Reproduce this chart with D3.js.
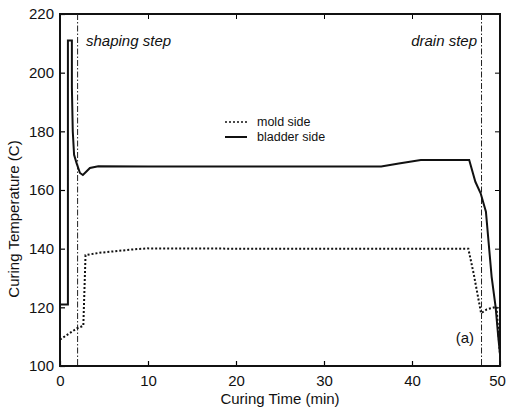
<!DOCTYPE html>
<html>
<head>
<meta charset="utf-8">
<script src="https://cdn.jsdelivr.net/npm/d3@7"></script>
<style>
  body { margin: 0; background: #fff; }
  text { font-family: Arial, "Liberation Sans", sans-serif; fill: #111; }
</style>
</head>
<body>
<div id="chart"></div>
<script>
(function() {
"use strict";

// values
var bladderTime = [0, 0.9, 0.9, 1.35, 1.35, 1.45, 1.6, 1.9, 2.27, 2.6, 3.0, 3.4, 4.35, 10, 20, 30, 36.5, 38.5, 41, 46.5, 47.2, 47.8, 48.4, 49.05, 49.5, 49.8, 50];
var bladderTemp = [121, 121, 211, 211, 195, 180, 172, 169, 165.8, 165.1, 166.3, 167.5, 168.1, 168, 168, 168, 168, 169, 170.2, 170.2, 162.8, 158.9, 152.6, 130.4, 120.2, 110, 104];

var moldTime = [0, 1.9, 2.65, 2.9, 4.5, 6.5, 8.5, 9.85, 20, 30, 40, 46.4, 47, 47.85, 48.5, 49.6, 50];
var moldTemp = [109, 112.8, 113.7, 137.8, 138.6, 139.2, 139.8, 140.1, 140, 140, 140, 140, 131.6, 118, 119.3, 120.2, 104];

var stepTimes = [2, 47.9];
var xTicks = [0, 10, 20, 30, 40, 50];
var yTicks = [100, 120, 140, 160, 180, 200, 220];

var W = 507, H = 411;
var left = 60, right = 500, top = 14, bottom = 366;

var svg = d3.select("#chart").append("svg")
    .attr("width", W)
    .attr("height", H);

var x = d3.scaleLinear().domain([0, 50]).range([left, right]);
var y = d3.scaleLinear().domain([100, 220]).range([bottom, top]);

// frame with inward ticks on all sides
svg.append("g")
    .attr("transform", "translate(0," + bottom + ")")
    .call(d3.axisBottom(x).tickValues(xTicks).tickSize(-5).tickPadding(9))
    .call(function(g) {
        g.select(".domain").remove();
        g.selectAll("text").attr("font-size", 15).attr("dy", "0.75em")
            .attr("dx", function(d) { return d === 50 ? -3 : 0; });
        g.selectAll("line").attr("stroke-width", 1.2);
    });
svg.append("g")
    .attr("transform", "translate(0," + top + ")")
    .call(d3.axisTop(x).tickValues(xTicks).tickSize(-5).tickFormat(""))
    .call(function(g) { g.select(".domain").remove(); });
svg.append("g")
    .attr("transform", "translate(" + left + ",0)")
    .call(d3.axisLeft(y).tickValues(yTicks).tickSize(-5).tickPadding(6))
    .call(function(g) {
        g.select(".domain").remove();
        g.selectAll("text").attr("font-size", 15);
        g.selectAll("line").attr("stroke-width", 1.2);
    });
svg.append("g")
    .attr("transform", "translate(" + right + ",0)")
    .call(d3.axisRight(y).tickValues(yTicks).tickSize(-5).tickFormat(""))
    .call(function(g) { g.select(".domain").remove(); });

svg.append("rect")
    .attr("x", left).attr("y", top)
    .attr("width", right - left).attr("height", bottom - top)
    .attr("fill", "none")
    .attr("stroke", "#111")
    .attr("stroke-width", 2);

// step markers
svg.selectAll("line.step")
    .data(stepTimes)
    .enter().append("line")
    .attr("class", "step")
    .attr("x1", function(d) { return x(d); })
    .attr("x2", function(d) { return x(d); })
    .attr("y1", top)
    .attr("y2", bottom)
    .attr("stroke", "#222")
    .attr("stroke-width", 1)
    .attr("stroke-dasharray", "6,2,1.5,2");

var line = d3.line()
    .x(function(d) { return x(d[0]); })
    .y(function(d) { return y(d[1]); });

svg.append("path")
    .datum(d3.zip(moldTime, moldTemp))
    .attr("d", line)
    .attr("fill", "none")
    .attr("stroke", "#111")
    .attr("stroke-width", 2)
    .attr("stroke-dasharray", "2,2");

svg.append("path")
    .datum(d3.zip(bladderTime, bladderTemp))
    .attr("d", line)
    .attr("fill", "none")
    .attr("stroke", "#111")
    .attr("stroke-width", 2);

// annotations
svg.append("text")
    .attr("x", 86).attr("y", 46)
    .attr("font-size", 15)
    .attr("font-style", "italic")
    .text("shaping step");
svg.append("text")
    .attr("x", 477).attr("y", 46)
    .attr("font-size", 15)
    .attr("font-style", "italic")
    .attr("text-anchor", "end")
    .text("drain step");
svg.append("text")
    .attr("x", 474).attr("y", 343)
    .attr("font-size", 15)
    .attr("text-anchor", "end")
    .text("(a)");

// legend
var legend = [
    {label: "mold side", dash: "2,2", width: 1.3},
    {label: "bladder side", dash: null, width: 2}
];
var lg = svg.append("g").attr("transform", "translate(225,122)");
lg.selectAll("line")
    .data(legend)
    .enter().append("line")
    .attr("x1", 0).attr("x2", 22)
    .attr("y1", function(d, i) { return i * 15; })
    .attr("y2", function(d, i) { return i * 15; })
    .attr("stroke", "#111")
    .attr("stroke-width", function(d) { return d.width; })
    .attr("stroke-dasharray", function(d) { return d.dash; });
lg.selectAll("text")
    .data(legend)
    .enter().append("text")
    .attr("x", 32)
    .attr("y", function(d, i) { return i * 15 + 4; })
    .attr("font-size", 12.5)
    .text(function(d) { return d.label; });

// axis titles
svg.append("text")
    .attr("x", (left + right) / 2).attr("y", 404)
    .attr("font-size", 15)
    .attr("text-anchor", "middle")
    .text("Curing Time (min)");
svg.append("text")
    .attr("transform", "translate(19,219) rotate(-90)")
    .attr("font-size", 15)
    .attr("text-anchor", "middle")
    .text("Curing Temperature (C)");

})();
</script>
</body>
</html>
